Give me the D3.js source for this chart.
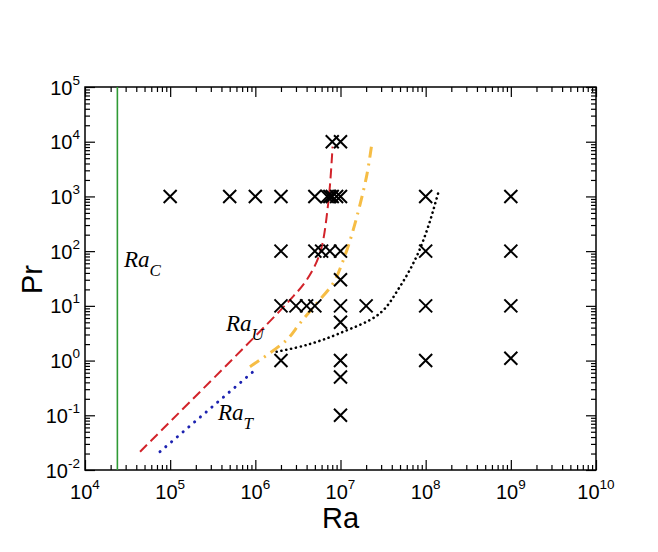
<!DOCTYPE html>
<html>
<head>
<meta charset="utf-8">
<script src="https://cdn.jsdelivr.net/npm/d3@7"></script>
<style>
  html, body { margin: 0; padding: 0; background: #fff; }
  svg { display: block; }
</style>
</head>
<body>
<svg id="chart" width="658" height="552"></svg>
<script>
// Axis decades (powers of ten)
const xDecades = [4, 5, 6, 7, 8, 9, 10];
const yDecades = [-2, -1, 0, 1, 2, 3, 4, 5];

// Simulated cases: Rayleigh number and Prandtl number
const caseRa = [
  1e5, 5e5, 1e6, 2e6, 5e6, 7e6, 7.5e6, 8e6, 9e6, 1e7, 1e8, 1e9,
  8e6, 1e7,
  2e6, 5e6, 6e6, 7.5e6, 1e7, 1e8, 1e9,
  1e7,
  2e6, 3e6, 4e6, 5e6, 1e7, 2e7, 1e8, 1e9,
  1e7,
  2e6, 1e7, 1e8, 1e9,
  1e7, 1e7
];
const casePr = [
  1000, 1000, 1000, 1000, 1000, 1000, 1000, 1000, 1000, 1000, 1000, 1000,
  10000, 10000,
  100, 100, 100, 100, 100, 100, 100,
  30,
  10, 10, 10, 10, 10, 10, 10, 10,
  5,
  1, 1, 1, 1.1,
  0.5, 0.1
];

// Critical Rayleigh number
const raCritical = 2.4e4;

// Transition curves (Ra, Pr)
const raURa = [4.43e4, 1.08e6, 2.55e6, 4.0e6, 5.73e6, 7.18e6, 8.07e6];
const raUPr = [0.0216, 3.16, 12.8, 29.7, 91.6, 752, 8130];

const raTRa = [7.6e4, 9.9e5];
const raTPr = [0.0216, 0.67];

const yellowRa = [8.65e5, 2.33e6, 3.34e6, 5.24e6, 8.2e6, 1.08e7, 1.41e7, 2.02e7, 2.32e7];
const yellowPr = [0.774, 2.38, 4.8, 11.1, 25.9, 69, 244, 2300, 8700];

const blackRa = [1.78e6, 4.0e6, 9.8e6, 2.9e7, 4.98e7, 7.8e7, 1.07e8, 1.4e8];
const blackPr = [1.45, 1.93, 3.16, 7.3, 22.4, 79, 280, 1140];

const svg = d3.select("#chart");
const plotL = 85, plotR = 596, plotT = 87, plotB = 470;

const x = d3.scaleLog().domain([1e4, 1e10]).range([plotL, plotR]);
const y = d3.scaleLog().domain([1e-2, 1e5]).range([plotB, plotT]);

const majorX = xDecades.map(e => Math.pow(10, e));
const majorY = yDecades.map(e => Math.pow(10, e));
const minorX = [], minorY = [];
xDecades.slice(0, -1).forEach(e => { for (let k = 2; k <= 9; k++) minorX.push(k * Math.pow(10, e)); });
yDecades.slice(0, -1).forEach(e => { for (let k = 2; k <= 9; k++) minorY.push(k * Math.pow(10, e)); });

function tickAxis(axisFn, scale, values, size, transform) {
  const g = svg.append("g").attr("transform", transform)
    .call(axisFn(scale).tickValues(values).tickSize(-size).tickSizeOuter(0).tickFormat(""));
  g.select(".domain").remove();
  g.selectAll(".tick line").attr("stroke", "#000").attr("stroke-width", 1.2);
  return g;
}

// Ticks on all four sides, pointing inward
tickAxis(d3.axisBottom, x, majorX, 10, `translate(0,${plotB})`);
tickAxis(d3.axisBottom, x, minorX, 5, `translate(0,${plotB})`);
tickAxis(d3.axisTop, x, majorX, 10, `translate(0,${plotT})`);
tickAxis(d3.axisTop, x, minorX, 5, `translate(0,${plotT})`);
tickAxis(d3.axisLeft, y, majorY, 10, `translate(${plotL},0)`);
tickAxis(d3.axisLeft, y, minorY, 5, `translate(${plotL},0)`);
tickAxis(d3.axisRight, y, majorY, 10, `translate(${plotR},0)`);
tickAxis(d3.axisRight, y, minorY, 5, `translate(${plotR},0)`);

// Frame
svg.append("rect")
  .attr("x", plotL).attr("y", plotT)
  .attr("width", plotR - plotL).attr("height", plotB - plotT)
  .attr("fill", "none").attr("stroke", "#000").attr("stroke-width", 1.5);

const sans = "'Liberation Sans', Arial, Helvetica, sans-serif";

// Tick labels as 10 with a superscript exponent
xDecades.forEach(e => {
  const t = svg.append("text")
    .attr("x", x(Math.pow(10, e))).attr("y", plotB + 29)
    .attr("text-anchor", "middle")
    .attr("font-family", sans).attr("font-size", 20).attr("fill", "#000");
  t.append("tspan").text("10");
  t.append("tspan").attr("dy", -10).attr("font-size", 13.5).text(e);
});
yDecades.forEach(e => {
  const t = svg.append("text")
    .attr("x", plotL - 5).attr("y", y(Math.pow(10, e)) + 7.5)
    .attr("text-anchor", "end")
    .attr("font-family", sans).attr("font-size", 20).attr("fill", "#000");
  t.append("tspan").text("10");
  t.append("tspan").attr("dy", -10).attr("font-size", 13.5).text(e);
});

// Axis titles
svg.append("text")
  .attr("x", (plotL + plotR) / 2).attr("y", 528)
  .attr("text-anchor", "middle")
  .attr("font-family", sans).attr("font-size", 29).text("Ra");
svg.append("text")
  .attr("transform", `translate(42,${(plotT + plotB) / 2 + 1}) rotate(-90)`)
  .attr("text-anchor", "middle")
  .attr("font-family", sans).attr("font-size", 29).text("Pr");

const plot = svg.append("g");

// Critical Rayleigh number line
plot.append("line")
  .attr("x1", x(raCritical)).attr("x2", x(raCritical))
  .attr("y1", y(1e-2)).attr("y2", y(1e5))
  .attr("stroke", "#2f9a35").attr("stroke-width", 1.6);

function curve(raArr, prArr) {
  return d3.line().x(d => x(d[0])).y(d => y(d[1])).curve(d3.curveCatmullRom.alpha(0.5))(
    raArr.map((r, i) => [r, prArr[i]]));
}

plot.append("path").attr("d", curve(raURa, raUPr))
  .attr("fill", "none").attr("stroke", "#d2232a").attr("stroke-width", 2)
  .attr("stroke-dasharray", "10,5");
plot.append("path").attr("d", curve(yellowRa, yellowPr))
  .attr("fill", "none").attr("stroke", "#f6bd45").attr("stroke-width", 3)
  .attr("stroke-dasharray", "11,6,2,6");
plot.append("path").attr("d", curve(raTRa, raTPr))
  .attr("fill", "none").attr("stroke", "#1c22b0").attr("stroke-width", 3)
  .attr("stroke-linecap", "round").attr("stroke-dasharray", "0.1,7.5");
plot.append("path").attr("d", curve(blackRa, blackPr))
  .attr("fill", "none").attr("stroke", "#000").attr("stroke-width", 2.6)
  .attr("stroke-linecap", "round").attr("stroke-dasharray", "0.1,4.8");

// Case markers
const s = 6.5;
plot.selectAll("path.case")
  .data(caseRa.map((r, i) => [r, casePr[i]]))
  .join("path")
  .attr("class", "case")
  .attr("d", d => {
    const cx = x(d[0]), cy = y(d[1]);
    return `M${cx - s},${cy - s}L${cx + s},${cy + s}M${cx - s},${cy + s}L${cx + s},${cy - s}`;
  })
  .attr("stroke", "#000").attr("stroke-width", 2).attr("fill", "none");

// Curve labels
const serif = "'Liberation Serif', 'Times New Roman', serif";
function label(xp, yp, main, sub) {
  const t = svg.append("text").attr("x", xp).attr("y", yp)
    .attr("font-family", serif).attr("font-style", "italic")
    .attr("font-size", 23).attr("fill", "#000");
  t.append("tspan").text(main);
  t.append("tspan").attr("dy", 9).attr("font-size", 17).text(sub);
}
label(124, 267, "Ra", "C");
label(226, 331, "Ra", "U");
label(218, 420, "Ra", "T");
</script>
</body>
</html>
